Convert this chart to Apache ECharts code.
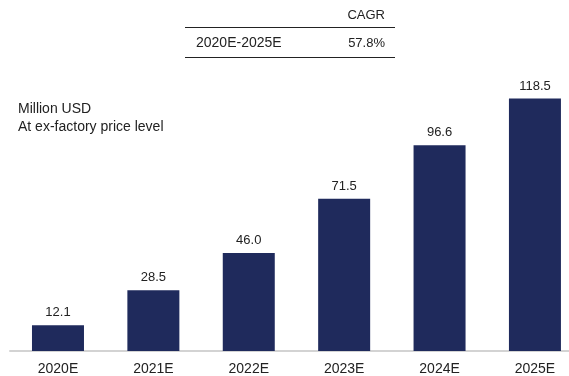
<!DOCTYPE html>
<html><head><meta charset="utf-8">
<script src="https://cdn.jsdelivr.net/npm/echarts@6/dist/echarts.min.js"></script>
<style>html,body{margin:0;padding:0;background:#fff}#c{width:569px;height:376px}</style>
</head><body><div id="c"></div>
<script>
const categories = ['2020E','2021E','2022E','2023E','2024E','2025E'];
const values = [12.1, 28.5, 46.0, 71.5, 96.6, 118.5];
const cagrHeader = 'CAGR';
const cagrPeriod = '2020E-2025E';
const cagrValue = '57.8%';
const unitLines = ['Million USD', 'At ex-factory price level'];

const font = '"Liberation Sans", Arial, Helvetica, sans-serif';
const positions = categories.map((c, i) => i);
const chart = echarts.init(document.getElementById('c'));
chart.setOption({
  animation: false,
  grid: { left: 10, top: 74, right: 0, bottom: 25, containLabel: false },
  xAxis: {
    type: 'value', min: -0.503, max: 5.357,
    splitLine: { show: false },
    axisLine: { show: true, onZero: true, lineStyle: { color: '#d3d3d3', width: 2 } },
    axisTick: { show: false },
    axisLabel: { customValues: positions, color: '#222', fontSize: 14, fontFamily: font, margin: 11,
      formatter: v => categories[Math.round(v)] }
  },
  yAxis: { type: 'value', min: 0, max: 130, show: false, splitLine: { show: false } },
  series: [{
    type: 'bar', data: values.map((v, i) => [positions[i], v]), barWidth: 52,
    itemStyle: { color: '#1f2a5c' },
    label: { show: true, position: 'top', distance: 6, color: '#222', fontSize: 13, fontFamily: font,
      formatter: p => p.value[1].toFixed(1) }
  }],
  graphic: [
    { type: 'text', right: 569 - 385, top: 9, style: { text: cagrHeader, font: '13px ' + font, fill: '#222' } },
    { type: 'line', shape: { x1: 185, y1: 27.5, x2: 395, y2: 27.5 }, style: { stroke: '#222', lineWidth: 1 } },
    { type: 'text', left: 196, top: 36, style: { text: cagrPeriod, font: '14px ' + font, fill: '#222' } },
    { type: 'text', right: 569 - 385, top: 37, style: { text: cagrValue, font: '13px ' + font, fill: '#222' } },
    { type: 'line', shape: { x1: 185, y1: 57.5, x2: 395, y2: 57.5 }, style: { stroke: '#222', lineWidth: 1 } },
    { type: 'text', left: 18, top: 102, style: { text: unitLines[0], font: '14px ' + font, fill: '#222' } },
    { type: 'text', left: 18, top: 120, style: { text: unitLines[1], font: '14px ' + font, fill: '#222' } }
  ]
});
</script></body></html>
